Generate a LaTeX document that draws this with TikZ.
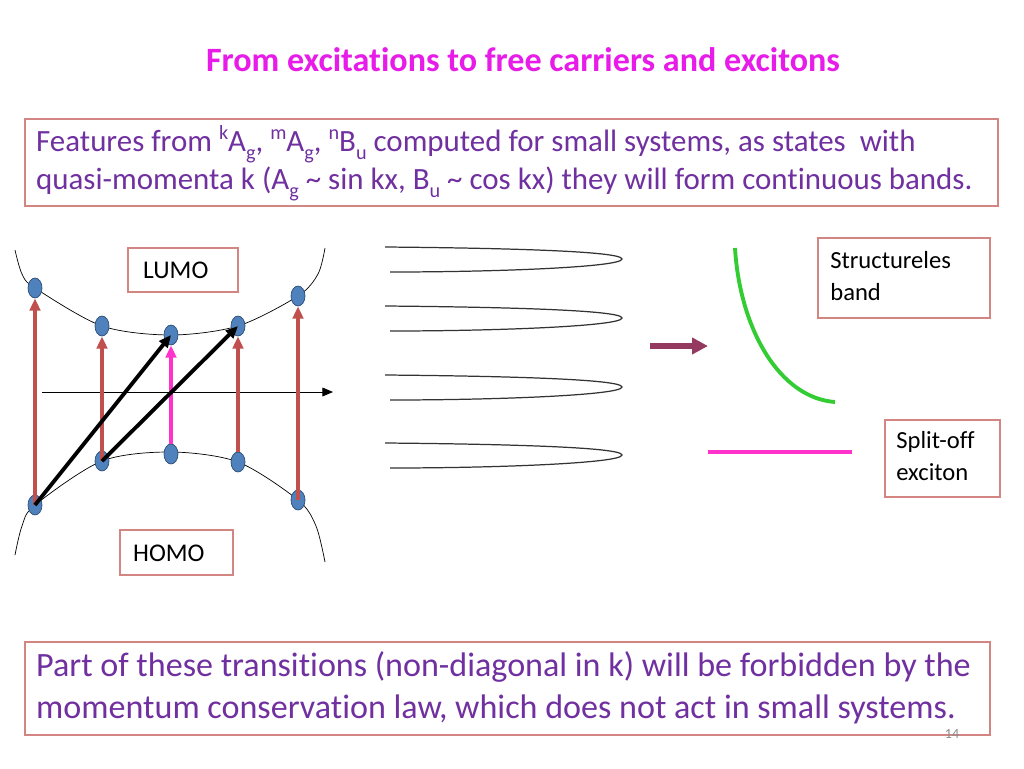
\documentclass[tikz,border=0pt]{standalone}
\usepackage{fontspec}
\setmainfont[Ligatures=NoCommon]{Carlito}
\usepackage{tikz}
\definecolor{txtpurple}{HTML}{7030A0}
\definecolor{titlepink}{HTML}{E81CE8}
\definecolor{brick}{HTML}{C0504D}
\definecolor{dotblue}{HTML}{4F81BD}
\definecolor{dotedge}{HTML}{2C4D75}
\definecolor{plum}{HTML}{953961}
\definecolor{hotpink}{HTML}{FF33CC}
\definecolor{lime}{HTML}{33CC33}
\newcommand{\lo}[1]{\raisebox{-0.25em}{\fontsize{11.5}{12}\selectfont #1}}
\newcommand{\hi}[1]{\raisebox{0.4em}{\fontsize{11.5}{12}\selectfont #1}}
\tikzset{
  trans/.style={-{Triangle[length=7pt,width=6pt]}, line width=2.2pt, brick},
  hairpin/.style={line width=0.7pt, black!80}
}
\usetikzlibrary{shapes.geometric,arrows.meta}
\begin{document}
\begin{tikzpicture}[x=0.02cm,y=-0.02cm]
    \useasboundingbox (0,0) rectangle (1024,768);
    \node [font=\fontsize{19.4}{23}\selectfont\bfseries, text=titlepink] (title) at (523,60) {From excitations to free carriers and excitons};
    \draw [brick!70, line width=0.6pt] (25,119) rectangle (998,206);
    \node [anchor=west, text=txtpurple, align=left, font=\fontsize{17.6}{21.5}\selectfont] (intro) at (30,163)
      {Features from \hi{k}A\lo{g}, \hi{m}A\lo{g}, \hi{n}B\lo{u} computed for small systems, as states\ \ with\\
       quasi-momenta k (A\lo{g} \char`~\ sin kx, B\lo{u} \char`~\ cos kx) they will form continuous bands.};
    % bands
    \draw [thin] plot [smooth] coordinates {(15,250) (22,274) (35,288) (102,326) (171,335) (238,326) (298,296) (318,274) (325,248)};
    \draw [thin] plot [smooth] coordinates {(15,555) (22,526) (35,505) (102,461) (171,452) (238,462) (298,500) (316,526) (325,562)};
    \draw [-{Triangle[length=6pt,width=5pt]}, thin] (42,392) -- (333,392);
    \foreach \n/\x/\y in {a/35/288, b/102/326, c/171/335, d/238/326, e/298/296}
      \node [ellipse, draw=dotedge, fill=dotblue, minimum width=14*0.02cm, minimum height=20*0.02cm, inner sep=0pt] (u\n) at (\x,\y) {};
    \foreach \n/\x/\y in {a/35/505, b/102/461, c/171/454, d/238/462, e/298/500}
      \node [ellipse, draw=dotedge, fill=dotblue, minimum width=14*0.02cm, minimum height=20*0.02cm, inner sep=0pt] (l\n) at (\x,\y) {};
    \draw [trans] (la.center) -- (ua.south);
    \draw [trans] (lb.center) -- (ub.south);
    \draw [trans] (ld.north) -- (ud.south);
    \draw [trans] (le.center) -- (ue.south);
    \draw [trans, hotpink] (lc.north) -- (uc.south);
    \draw [trans, black] (la.center) -- (uc.center);
    \draw [trans, black] (lb.center) -- (ud.center);
    \draw [brick!70, line width=0.6pt] (128,248) rectangle (238,292);
    \node [anchor=west, font=\fontsize{14.5}{17}\selectfont] (lumo) at (137,270) {LUMO};
    \draw [brick!70, line width=0.6pt] (120,530) rectangle (233,575);
    \node [anchor=west, font=\fontsize{14.5}{17}\selectfont] (homo) at (127,553) {HOMO};
    % levels
    \foreach \y in {247,306,375,443}
      \draw [hairpin] (385,\y) .. controls (500,\y+1) and (622,\y+4) .. (622,\y+12)
                      .. controls (622,\y+20) and (500,\y+25) .. (390,\y+25);
    \draw [-{Triangle[length=9pt,width=9pt]}, line width=3pt, plum] (650,346) -- (708,346);
    \draw [line width=2.2pt, lime] (735,248) .. controls (740,330) and (780,398) .. (835,402);
    \draw [brick!70, line width=0.6pt] (818,238) rectangle (990,318);
    \node [anchor=north west, align=left, font=\fontsize{14}{18}\selectfont, inner sep=0pt] (struct) at (830,251) {Structureles\\band};
    \draw [line width=2.2pt, hotpink] (708,452) -- (852,452);
    \draw [brick!70, line width=0.6pt] (885,420) rectangle (1000,497);
    \node [anchor=north west, align=left, font=\fontsize{14}{18}\selectfont, inner sep=0pt] (split) at (896,431) {Split-off\\exciton};
    \draw [brick!70, line width=0.6pt] (25,642) rectangle (990,735);
    \node [anchor=west, text=txtpurple, align=left, font=\fontsize{19.4}{24}\selectfont] (concl) at (30,688)
      {Part of these transitions (non-diagonal in k) will be forbidden by the\\
       momentum conservation law, which does not act in small systems.};
    \node [text=black!45, font=\fontsize{8}{9}\selectfont] (page) at (952,734) {14};
\end{tikzpicture}
\end{document}
